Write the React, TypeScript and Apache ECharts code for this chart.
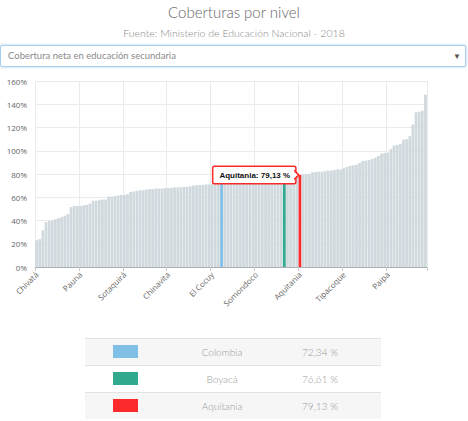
import React, { useEffect, useRef } from 'react';
import * as echarts from 'echarts';

const categories = [
  'Chivatá', 'Almeida', 'Arcabuco', 'Belén', 'Berbeo', 'Betéitiva', 'Boavita', 'Boyacá', 'Briceño', 'Buenavista', 'Busbanzá', 'Caldas', 'Campohermoso', 'Cerinza',
  'Pauna', 'Chiquinquirá', 'Chíquiza', 'Chiscas', 'Chita', 'Chitaraque', 'Chivor', 'Ciénega', 'Cómbita', 'Coper', 'Corrales', 'Covarachía', 'Cubará', 'Cucaita',
  'Sotaquirá', 'Cuítiva', 'Duitama', 'El Espino', 'Firavitoba', 'Floresta', 'Gachantivá', 'Gámeza', 'Garagoa', 'Guacamayas', 'Guateque', 'Guayatá', 'Güicán', 'Iza',
  'Chinavita', 'Jenesano', 'Jericó', 'La Capilla', 'La Uvita', 'La Victoria', 'Labranzagrande', 'Macanal', 'Maripí', 'Miraflores', 'Mongua', 'Monguí', 'Moniquirá', 'Motavita',
  'El Cocuy', 'Muzo', 'Nobsa', 'Colombia', 'Nuevo Colón', 'Oicatá', 'Otanche', 'Pachavita', 'Páez', 'Pajarito', 'Panqueba', 'Paya', 'Paz de Río', 'Pesca',
  'Somondoco', 'Pisba', 'Puerto Boyacá', 'Quípama', 'Ramiriquí', 'Ráquira', 'Rondón', 'Saboyá', 'Sáchica', 'Boyacá', 'Samacá', 'San Eduardo', 'San José de Pare', 'San Luis de Gaceno',
  'Aquitania', 'San Mateo', 'San Miguel de Sema', 'San Pablo de Borbur', 'Santa María', 'Santa Rosa de Viterbo', 'Santa Sofía', 'Santana', 'Sativanorte', 'Sativasur', 'Siachoque', 'Soatá', 'Socha', 'Socotá',
  'Tipacoque', 'Sogamoso', 'Sora', 'Soracá', 'Susacón', 'Sutamarchán', 'Sutatenza', 'Tasco', 'Tenza', 'Tibaná', 'Tibasosa', 'Tinjacá', 'Toca', 'Togüí',
  'Paipa', 'Tópaga', 'Tota', 'Tunja', 'Tununguá', 'Turmequé', 'Tuta', 'Tutazá', 'Úmbita', 'Ventaquemada', 'Villa de Leyva', 'Viracachá', 'Zetaquira',
];

const values = [
  23, 24, 31.5, 38.5, 39.5, 40, 41, 42, 43, 44, 45.5, 51.5, 52.5, 52.5,
  52.5, 53, 53.5, 54.5, 57, 57, 57.5, 58, 58, 60.5, 60.5, 61, 61.5, 62,
  62, 62.5, 64.5, 65, 65.5, 66, 66, 66.5, 67, 67, 67.5, 67.5, 67.5, 68,
  68, 68, 68.5, 68.5, 68.5, 69, 69, 69.5, 70, 70.3, 70.5, 70.5, 71, 71,
  71.3, 71.5, 71.8, 72.34, 72.5, 72.6, 72.8, 73, 73.2, 73.4, 73.6, 73.8, 74, 74.2,
  74.4, 74.6, 74.8, 75, 75.3, 75.6, 75.9, 76.1, 76.4, 76.61, 77, 77.5, 78, 78.6,
  79.13, 79.5, 79.8, 80, 81.5, 81.7, 82, 82, 82.5, 83, 83, 83.5, 84, 84,
  85, 86, 87, 87.5, 88, 89.5, 91, 91.5, 92, 93, 94, 95.5, 97.5, 98,
  98.5, 101.5, 104.5, 105, 106, 109.5, 110, 112.5, 122.5, 133, 133.5, 134.5, 148.3,
];

const highlightIndex = [59, 79, 84];
const highlightNames = ['Colombia', 'Boyacá', 'Aquitania'];
const highlightValues = [72.34, 76.61, 79.13];
const highlightColors = ['#80bfe6', '#31a98f', '#fc2a2a'];
const tooltipIndex = 84;

const fmt = (v: number) => v.toFixed(2).replace('.', ',') + ' %';

function Chart() {
  const ref = useRef<HTMLDivElement>(null);
  useEffect(() => {
    if (!ref.current) return;
    const chart = echarts.init(ref.current, undefined, { renderer: 'svg' });
    const data = values.map((v, i) => {
      const h = highlightIndex.indexOf(i);
      const item: any = { value: v };
      if (h >= 0) item.itemStyle = { color: highlightColors[h] };
      if (i === tooltipIndex) {
        item.label = {
          show: true,
          position: [-3.5, 0],
          align: 'right',
          verticalAlign: 'middle',
          formatter: `${categories[i]}: ${fmt(v)}`,
          backgroundColor: '#fff',
          borderColor: '#fc2a2a',
          borderWidth: 1.5,
          borderRadius: 1,
          padding: [3, 5, 3, 6],
          lineHeight: 10,
          fontSize: 8,
          fontWeight: 'bold',
          color: '#111',
          fontFamily: 'Liberation Sans, Arial, sans-serif',
        };
      }
      return item;
    });
    chart.setOption({
      animation: false,
      grid: { left: 35, right: 41, top: 11, bottom: 65 },
      xAxis: {
        type: 'category',
        data: categories,
        boundaryGap: true,
        axisLine: { lineStyle: { color: '#aab0b5' } },
        axisTick: { show: true, interval: 13, length: 4, lineStyle: { color: '#c8c8c8' } },
        axisLabel: { interval: 13, rotate: 45, fontSize: 8, color: '#666', margin: 6, fontFamily: 'Open Sans, sans-serif' },
        splitLine: { show: true, interval: 13, lineStyle: { color: '#ebebeb' } },
      },
      yAxis: {
        type: 'value',
        min: 0,
        max: 160,
        interval: 20,
        axisLabel: { formatter: '{value}%', fontSize: 8, color: '#666', margin: 8, fontFamily: 'Open Sans, sans-serif' },
        splitLine: { lineStyle: { color: '#ebebeb' } },
        axisLine: { show: false },
        axisTick: { show: false },
      },
      series: [
        {
          type: 'bar',
          data,
          barCategoryGap: '12%',
          itemStyle: { color: '#d0d9dd' },
          markPoint: {
            silent: true,
            symbol: 'path://M0,0 L4,4 L0,8',
            symbolSize: [4.5, 9],
            symbolOffset: [-3.5, 0],
            itemStyle: { color: '#fff', borderColor: '#fc2a2a', borderWidth: 1.5 },
            label: { show: false },
            data: [{ coord: [tooltipIndex, values[tooltipIndex]] }],
          },
        },
      ],
    });
    return () => chart.dispose();
  }, []);
  return <div ref={ref} style={{ position: 'absolute', left: 0, top: 70, width: 468, height: 262 }} />;
}

export default function App() {
  useEffect(() => {
    document.body.style.margin = '0';
  }, []);
  const font = 'Lato, "Open Sans", sans-serif';
  return (
    <div style={{ position: 'relative', width: 468, height: 421, background: '#fff', overflow: 'hidden', fontFamily: font }}>
      <div style={{ position: 'absolute', top: 2, left: 0, width: 468, textAlign: 'center', fontSize: 15, color: '#666', fontWeight: 300, lineHeight: '20px' }}>
        Coberturas por nivel
      </div>
      <div style={{ position: 'absolute', top: 26, left: 0, width: 468, textAlign: 'center', fontSize: 10.5, color: '#8a8a8a', fontWeight: 300, lineHeight: '14px' }}>
        Fuente: Ministerio de Educación Nacional - 2018
      </div>
      <div style={{ position: 'absolute', top: 45, left: 0, width: 464, height: 20, border: '1px solid #a9cfee', boxShadow: '0 0 3px #a9cfee', borderRadius: 2, background: '#fff' }}>
        <span style={{ position: 'absolute', left: 7, top: 3, fontSize: 9.5, color: '#8a8a8a', lineHeight: '14px' }}>
          Cobertura neta en educación secundaria
        </span>
        <span style={{ position: 'absolute', right: 4, top: 3, fontSize: 8, color: '#555', lineHeight: '14px' }}>▼</span>
      </div>
      <Chart />
      <div style={{ position: 'absolute', left: 85, top: 338, width: 296 }}>
        {highlightNames.map((n, i) => (
          <div key={n} style={{ position: 'relative', height: 27, background: i % 2 === 0 ? '#f6f6f6' : '#fff', borderTop: '1px solid #e2e2e2', boxSizing: 'border-box' }}>
            <div style={{ position: 'absolute', left: 28, top: 6, width: 25, height: 13, background: highlightColors[i] }} />
            <div style={{ position: 'absolute', left: 87, top: 0, width: 100, textAlign: 'center', lineHeight: '26px', fontSize: 10, color: '#999', fontWeight: 300 }}>{n}</div>
            <div style={{ position: 'absolute', left: 185, top: 0, width: 100, textAlign: 'center', lineHeight: '26px', fontSize: 10, color: '#999', fontWeight: 300 }}>{fmt(highlightValues[i])}</div>
          </div>
        ))}
      </div>
    </div>
  );
}
